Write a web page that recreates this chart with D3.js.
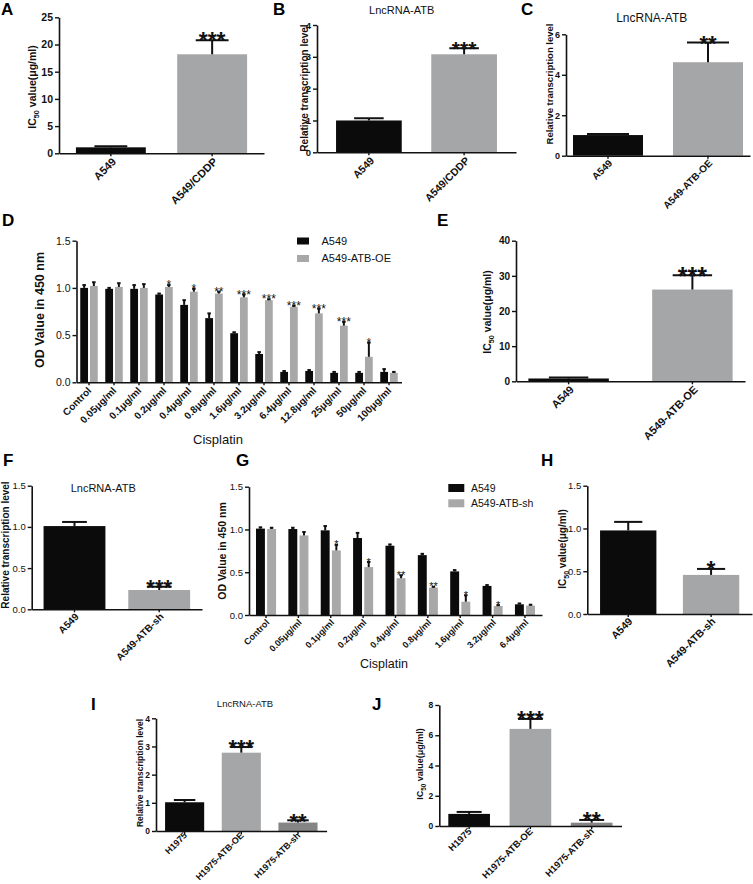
<!DOCTYPE html>
<html><head><meta charset="utf-8">
<script src="https://cdn.jsdelivr.net/npm/d3@7"></script>
<style>body{margin:0;background:#fff}svg{display:block}text{font-family:"Liberation Sans",Arial,sans-serif}</style>
</head><body><svg id="c" width="753" height="884"></svg>
<script>
// ---------- DATA ----------
const aCats = ["A549","A549/CDDP"];
const aVals = [1.1, 18.2];
const aErrs = [0.2, 2.6];
const aStars = ["", "***"];

const bCats = ["A549","A549/CDDP"];
const bVals = [1.0, 3.08];
const bErrs = [0.07, 0.19];
const bStars = ["", "***"];

const cCats = ["A549","A549-ATB-OE"];
const cVals = [1.02, 4.62];
const cErrs = [0.05, 0.97];
const cStars = ["", "**"];

const dCats = ["Control","0.05μg/ml","0.1μg/ml","0.2μg/ml","0.4μg/ml","0.8μg/ml","1.6μg/ml","3.2μg/ml","6.4μg/ml","12.8μg/ml","25μg/ml","50μg/ml","100μg/ml"];
const dSeries = ["A549","A549-ATB-OE"];
const dA549 = [1.00,0.99,0.99,0.93,0.82,0.68,0.52,0.30,0.11,0.12,0.10,0.10,0.11];
const dA549Err = [0.03,0.01,0.04,0.01,0.05,0.05,0.01,0.02,0.01,0.01,0.01,0.01,0.03];
const dOE = [1.02,1.01,1.00,1.01,0.96,0.94,0.90,0.87,0.80,0.73,0.60,0.27,0.10];
const dOEErr = [0.04,0.04,0.04,0.02,0.03,0.02,0.03,0.01,0.01,0.05,0.04,0.15,0.01];
const dStars = ["","","","*","*","**","***","***","***","***","***","*",""];

const eCats = ["A549","A549-ATB-OE"];
const eVals = [0.8, 26.1];
const eErrs = [0.3, 4.1];
const eStars = ["", "***"];

const fCats = ["A549","A549-ATB-sh"];
const fVals = [1.01, 0.234];
const fErrs = [0.05, 0.04];
const fStars = ["", "***"];

const gCats = ["Control","0.05μg/ml","0.1μg/ml","0.2μg/ml","0.4μg/ml","0.8μg/ml","1.6μg/ml","3.2μg/ml","6.4μg/ml"];
const gSeries = ["A549","A549-ATB-sh"];
const gA549 = [1.01,1.005,0.99,0.90,0.81,0.70,0.51,0.34,0.125];
const gA549Err = [0.015,0.015,0.05,0.06,0.015,0.015,0.015,0.01,0.01];
const gSh = [1.005,0.93,0.755,0.56,0.43,0.32,0.155,0.105,0.11];
const gShErr = [0.015,0.04,0.065,0.06,0.035,0.01,0.075,0.01,0.01];
const gStars = ["","","*","*","**","**","*","*",""];

const hCats = ["A549","A549-ATB-sh"];
const hVals = [0.977, 0.457];
const hErrs = [0.10, 0.07];
const hStars = ["", "*"];

const iCats = ["H1975","H1975-ATB-OE","H1975-ATB-sh"];
const iVals = [1.02, 2.78, 0.30];
const iErrs = [0.08, 0.20, 0.08];
const iStars = ["", "***", "**"];

const jCats = ["H1975","H1975-ATB-OE","H1975-ATB-sh"];
const jVals = [0.80, 6.42, 0.22];
const jErrs = [0.13, 0.66, 0.18];
const jStars = ["", "***", "**"];

// ---------- DRAWING ----------
const svg = d3.select("#c");
const FONT = '"Liberation Sans",Arial,sans-serif';
const BLACK = "#0b0b0b", GRAY = "#a5a6a8", DGRAY = "#858585";

function styleAxis(a, fs, bold){
  a.select(".domain").attr("stroke","#111").attr("stroke-width",1.6);
  a.selectAll(".tick line").attr("stroke","#111").attr("stroke-width",1.4);
  a.selectAll(".tick text").attr("font-family",FONT).attr("font-size",fs).attr("font-weight",bold?"bold":"normal").attr("fill","#111");
}

function yLabel(x, yc, txt, fs, bold, ic50){
  const t = svg.append("text").attr("transform",`translate(${x},${yc}) rotate(-90)`)
    .attr("text-anchor","middle").attr("font-size",fs).attr("font-weight",bold?"bold":"normal").attr("fill","#111");
  if(ic50){
    t.append("tspan").text("IC");
    t.append("tspan").attr("font-size",fs*0.7).attr("dy",fs*0.3).text("50");
    t.append("tspan").attr("dy",-fs*0.3).text(" value(μg/ml)");
  } else t.text(txt);
}
function letter(x,y,t){ svg.append("text").attr("x",x).attr("y",y).attr("font-size",17).attr("font-weight","bold").attr("fill","#000").text(t); }
function title(x,y,t,fs){ svg.append("text").attr("x",x).attr("y",y).attr("text-anchor","middle").attr("font-size",fs).attr("fill","#111").text(t); }

function starText(g, cx, capY, s, fs, bold){
  if(!s) return;
  g.append("text").attr("x",cx).attr("y",capY - 1 + 0.42*fs).attr("text-anchor","middle")
    .attr("font-size",fs).attr("font-weight",bold?"bold":"normal").attr("fill","#111").text(s);
}

function errBar(g, cx, yTop, yCap, capW, sw){
  g.append("line").attr("x1",cx).attr("x2",cx).attr("y1",yTop).attr("y2",yCap).attr("stroke","#111").attr("stroke-width",sw);
  g.append("line").attr("x1",cx-capW/2).attr("x2",cx+capW/2).attr("y1",yCap).attr("y2",yCap).attr("stroke","#111").attr("stroke-width",sw);
}

function barPanel(o){
  const g = svg.append("g");
  const x = d3.scaleBand().domain(o.cats).range([o.x0,o.x1]).paddingInner(o.pi).paddingOuter(o.po);
  const y = d3.scaleLinear().domain([0,o.max]).range([o.yb,o.yt]);
  const bw = x.bandwidth();
  g.selectAll("rect.bar").data(o.cats).join("rect").attr("class","bar")
    .attr("x",d=>x(d)).attr("width",bw)
    .attr("y",(d,i)=>y(o.vals[i])).attr("height",(d,i)=>y(0)-y(o.vals[i]))
    .attr("fill",(d,i)=>o.colors[i]);
  o.cats.forEach((d,i)=>{
    const cx = x(d)+bw/2;
    errBar(g, cx, y(o.vals[i]), y(o.vals[i]+o.errs[i]), bw*o.capF, o.esw||2);
    starText(g, cx, y(o.vals[i]+o.errs[i]), o.stars[i], o.starFs, true);
  });
  const ya = g.append("g").attr("transform",`translate(${o.x0},0)`)
    .call(d3.axisLeft(y).tickValues(o.ticks).tickFormat(o.fmt||d3.format("d")).tickSize(4).tickSizeOuter(0).tickPadding(2));
  styleAxis(ya, o.tfs, o.tbold);
  const xa = g.append("g").attr("transform",`translate(0,${o.yb})`)
    .call(d3.axisBottom(x).tickSize(3).tickSizeOuter(0));
  styleAxis(xa, o.xfs, true);
  xa.selectAll(".tick text").attr("x",0).attr("y",0).attr("dy",null).attr("text-anchor","end")
    .attr("transform",`translate(${o.ldx},${o.ldy}) rotate(-45)`);
  return g;
}

function groupPanel(o){
  const g = svg.append("g");
  const x = d3.scaleBand().domain(o.cats).range([o.x0,o.x1]).paddingInner(o.pi).paddingOuter(o.po);
  const xs = d3.scaleBand().domain(o.series).range([0,x.bandwidth()]).paddingInner(o.spi);
  const y = d3.scaleLinear().domain([0,o.max]).range([o.yb,o.yt]);
  const cols = [BLACK, o.gray];
  o.series.forEach((s,k)=>{
    const vals = o.vals[k], errs = o.errs[k];
    g.selectAll("rect.s"+k).data(o.cats).join("rect").attr("class","s"+k)
      .attr("x",d=>x(d)+xs(s)).attr("width",xs.bandwidth())
      .attr("y",(d,i)=>y(vals[i])).attr("height",(d,i)=>y(0)-y(vals[i])).attr("fill",cols[k]);
    o.cats.forEach((d,i)=>{
      const cx = x(d)+xs(s)+xs.bandwidth()/2;
      errBar(g, cx, y(vals[i]), y(vals[i]+errs[i]), 3.5, 2);
      if(k===1) starText(g, cx, y(vals[i]+errs[i]), o.stars[i], o.starFs, false);
    });
  });
  const ya = g.append("g").attr("transform",`translate(${o.x0},0)`)
    .call(d3.axisLeft(y).tickValues([0,0.5,1,1.5]).tickFormat(d3.format(".1f")).tickSize(4).tickSizeOuter(0).tickPadding(2));
  styleAxis(ya, o.tfs, false);
  const xa = g.append("g").attr("transform",`translate(0,${o.yb})`)
    .call(d3.axisBottom(x).tickSize(3).tickSizeOuter(0));
  styleAxis(xa, o.xfs, true);
  xa.selectAll(".tick text").attr("x",0).attr("y",0).attr("dy",null).attr("text-anchor","end")
    .attr("transform",`translate(${o.ldx},${o.ldy}) rotate(-45)`);
  // legend
  o.series.forEach((s,k)=>{
    const ly = o.legY + k*o.legGap;
    svg.append("rect").attr("x",o.legX).attr("y",ly).attr("width",o.legW).attr("height",o.legH).attr("fill",cols[k]);
    svg.append("text").attr("x",o.legX+o.legW+o.legTx).attr("y",ly+o.legH).attr("font-size",o.legFs).attr("fill","#111").text(s);
  });
}

// A
letter(1,15,"A");
barPanel({cats:aCats,vals:aVals,errs:aErrs,stars:aStars,colors:[BLACK,GRAY],x0:59,x1:264,pi:0.31,po:0.167,
  yb:153.3,yt:17.3,max:25,ticks:[0,5,10,15,20,25],tfs:10.5,tbold:true,xfs:11,ldx:6,ldy:9,capF:0.47,starFs:23});
yLabel(36,87,"",10.5,true,true);

// B
letter(273,15,"B");
title(401.7,14,"LncRNA-ATB",11);
barPanel({cats:bCats,vals:bVals,errs:bErrs,stars:bStars,colors:[BLACK,GRAY],x0:317,x1:516,pi:0.31,po:0.2,
  yb:152.3,yt:25,max:4,ticks:[0,1,2,3,4],tfs:9.5,tbold:true,xfs:10.5,ldx:6,ldy:9,capF:0.45,starFs:21});
yLabel(308,88,"Relative transcription level",10,true,false);

// C
letter(521,15,"C");
title(651.7,22,"LncRNA-ATB",12);
barPanel({cats:cCats,vals:cVals,errs:cErrs,stars:cStars,colors:[BLACK,GRAY],x0:566,x1:750,pi:0.3,po:0.07,
  yb:155.7,yt:34.3,max:6,ticks:[0,2,4,6],tfs:9,tbold:true,xfs:10,ldx:5,ldy:8,capF:0.6,starFs:22});
yLabel(553,84,"Relative transcription level",9.5,true,false);

// D
letter(2,226,"D");
groupPanel({cats:dCats,series:dSeries,vals:[dA549,dOE],errs:[dA549Err,dOEErr],stars:dStars,gray:"#a8a8a8",
  x0:76.5,x1:401.5,pi:0.3,po:0.15,spi:0.2,yb:382.3,yt:240.7,max:1.5,tfs:10.5,xfs:10,ldx:3,ldy:9,starFs:12,
  legX:297,legY:237.5,legGap:17.5,legW:12,legH:7,legTx:12.5,legFs:11});
yLabel(44,310,"OD Value in 450 nm",12.5,true,false);
svg.append("text").attr("x",218).attr("y",444).attr("text-anchor","middle").attr("font-size",13).attr("fill","#111").text("Cisplatin");

// E
letter(437,226,"E");
barPanel({cats:eCats,vals:eVals,errs:eErrs,stars:eStars,colors:[BLACK,GRAY],x0:516,x1:745,pi:0.35,po:0.1,
  yb:381.3,yt:240.7,max:40,ticks:[0,10,20,30,40],tfs:10,tbold:true,xfs:11,ldx:6,ldy:9,capF:0.49,starFs:25});
yLabel(491,312,"",10.5,true,true);

// F
letter(3,466,"F");
title(103.3,491.5,"LncRNA-ATB",11);
barPanel({cats:fCats,vals:fVals,errs:fErrs,stars:fStars,colors:[BLACK,GRAY],x0:31.7,x1:202,pi:0.27,po:0.14,
  yb:609.3,yt:485.7,max:1.5,ticks:[0,0.5,1,1.5],fmt:d3.format(".1f"),tfs:9.5,tbold:false,xfs:10,ldx:5,ldy:8,capF:0.4,starFs:22});
yLabel(9,545,"Relative transcription level",10,true,false);

// G
letter(236,466,"G");
groupPanel({cats:gCats,series:gSeries,vals:[gA549,gSh],errs:[gA549Err,gShErr],stars:gStars,gray:"#a8a8a8",
  x0:249,x1:542,pi:0.38,po:0.216,spi:0.2,yb:615,yt:486.7,max:1.5,tfs:9.5,xfs:9,ldx:4,ldy:8,starFs:11,
  legX:448.3,legY:484,legGap:15.3,legW:16,legH:8,legTx:6.7,legFs:10.5});
yLabel(226,551,"OD Value in 450 nm",10.5,true,false);
svg.append("text").attr("x",384).attr("y",668).attr("text-anchor","middle").attr("font-size",12.5).attr("fill","#111").text("Cisplatin");

// H
letter(541,466,"H");
barPanel({cats:hCats,vals:hVals,errs:hErrs,stars:hStars,colors:[BLACK,GRAY],x0:587.3,x1:752,pi:0.32,po:0.154,
  yb:614,yt:485.7,max:1.5,ticks:[0,0.5,1,1.5],fmt:d3.format(".1f"),tfs:9.5,tbold:false,xfs:10.5,ldx:5,ldy:8,capF:0.5,starFs:23});
yLabel(566,549,"",10,true,true);

// I
letter(91,710,"I");
title(245,706.5,"LncRNA-ATB",9.5);
barPanel({cats:iCats,vals:iVals,errs:iErrs,stars:iStars,colors:[BLACK,GRAY,DGRAY],x0:156,x1:326.6,pi:0.31,po:0.16,
  yb:831,yt:718.3,max:4,ticks:[0,1,2,3,4],tfs:8.5,tbold:true,xfs:9,ldx:3,ldy:5,capF:0.55,starFs:22});
yLabel(143,773,"Relative transcription level",8.5,true,false);

// J
letter(372,710,"J");
barPanel({cats:jCats,vals:jVals,errs:jErrs,stars:jStars,colors:[BLACK,GRAY,DGRAY],x0:439.3,x1:621.5,pi:0.32,po:0.147,
  yb:826,yt:705,max:8,ticks:[0,2,4,6,8],tfs:8.5,tbold:true,xfs:9.5,ldx:3,ldy:6,capF:0.6,starFs:23});
yLabel(423,764,"",9,true,true);
</script></body></html>
